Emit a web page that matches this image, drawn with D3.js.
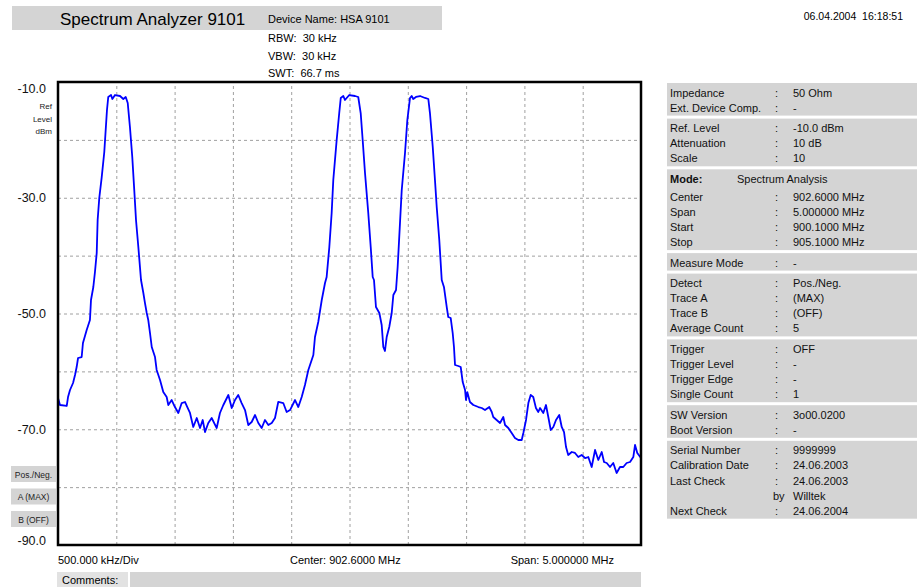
<!DOCTYPE html>
<html><head><meta charset="utf-8">
<script src="https://cdn.jsdelivr.net/npm/d3@7"></script>
<style>
body{margin:0;background:#fff;}
svg{display:block;font-family:"Liberation Sans",Arial,sans-serif;}
svg text{white-space:pre;}
</style>
</head><body>
<svg id="c" width="923" height="587"></svg>
<script>
// ---- data ----
const freqMHz = [
900.100,900.117,900.175,900.186,900.203,900.229,900.246,900.260,900.272,900.303,
900.314,900.346,900.374,900.383,900.403,900.417,900.432,900.440,900.454,900.475,
900.497,900.509,900.520,900.531,900.555,900.566,900.589,900.632,900.660,900.681,
900.698,900.717,900.737,900.754,900.769,900.789,900.812,900.832,900.846,900.861,
900.874,900.889,900.904,900.932,900.946,900.975,901.003,901.032,901.046,901.075,
901.103,901.132,901.161,901.189,901.209,901.232,901.260,901.290,901.318,901.341,
901.361,901.389,901.418,901.461,901.489,901.518,901.561,901.590,901.618,901.646,
901.675,901.704,901.732,901.761,901.790,901.818,901.847,901.875,901.904,901.933,
901.961,901.989,902.032,902.061,902.090,902.133,902.161,902.190,902.218,902.247,
902.290,902.304,902.332,902.362,902.390,902.404,902.427,902.447,902.461,902.490,
902.512,902.525,902.547,902.561,902.598,902.647,902.675,902.696,902.713,902.733,
902.761,902.782,902.799,902.810,902.827,902.856,902.876,902.890,902.904,902.919,
902.941,902.962,902.976,902.999,903.013,903.033,903.048,903.076,903.096,903.119,
903.133,903.147,903.170,903.205,903.248,903.276,903.290,903.314,903.333,903.348,
903.370,903.391,903.410,903.434,903.447,903.468,903.485,903.496,903.505,903.533,
903.554,903.571,903.591,903.599,903.610,903.633,903.662,903.705,903.734,903.762,
903.799,903.820,903.833,903.862,903.891,903.919,903.934,903.962,903.991,904.019,
904.048,904.077,904.091,904.114,904.134,904.154,904.176,904.199,904.219,904.234,
904.262,904.285,904.305,904.326,904.348,904.371,904.399,904.420,904.440,904.457,
904.476,904.506,904.534,904.562,904.591,904.620,904.648,904.677,904.706,904.734,
904.763,904.783,904.806,904.834,904.862,904.891,904.920,904.948,904.977,905.006,
905.034,905.049,905.068,905.100];
const levelDbm = [
-64.60,-65.81,-65.98,-64.43,-63.22,-62.01,-60.63,-59.25,-57.69,-57.52,
-55.10,-52.85,-51.12,-47.67,-45.42,-42.83,-39.55,-33.84,-30.04,-26.42,
-22.10,-18.29,-14.84,-12.59,-12.25,-12.94,-12.25,-12.42,-12.94,-12.59,
-13.63,-17.78,-22.96,-28.66,-33.84,-38.51,-44.21,-46.46,-48.19,-49.91,
-51.12,-53.37,-55.79,-57.52,-59.76,-61.49,-63.57,-64.43,-65.81,-64.95,
-66.16,-67.19,-65.47,-65.29,-66.16,-67.19,-69.61,-68.06,-69.79,-68.40,
-70.48,-68.92,-68.06,-69.79,-67.19,-65.81,-64.08,-66.33,-64.95,-64.08,
-65.47,-66.68,-69.27,-68.75,-67.54,-68.92,-69.79,-68.40,-69.27,-68.92,
-68.06,-65.29,-65.47,-67.02,-66.68,-64.95,-66.16,-64.43,-62.36,-59.76,
-57.17,-54.06,-51.47,-47.67,-44.73,-43.69,-38.51,-32.64,-26.93,-20.02,
-15.36,-12.76,-12.42,-13.11,-12.25,-12.42,-12.59,-15.36,-20.02,-25.72,
-32.64,-38.51,-43.69,-44.21,-48.88,-49.91,-51.99,-55.79,-56.48,-54.06,
-52.33,-49.91,-46.80,-45.94,-41.97,-34.36,-28.66,-22.27,-16.57,-12.76,
-12.42,-12.94,-12.59,-12.42,-12.76,-12.94,-15.36,-21.23,-26.93,-31.60,
-37.30,-44.21,-45.42,-48.88,-50.61,-50.78,-53.37,-55.79,-58.90,-59.07,
-59.25,-61.84,-63.22,-64.95,-63.57,-65.29,-65.81,-66.16,-66.33,-66.68,
-66.16,-67.02,-67.89,-68.40,-68.92,-67.89,-69.27,-69.79,-70.65,-71.51,
-71.86,-71.86,-70.65,-68.40,-65.47,-64.08,-64.43,-66.33,-67.02,-66.33,
-67.19,-65.81,-67.89,-70.13,-69.61,-68.40,-67.54,-69.61,-70.48,-73.07,
-74.45,-73.93,-74.10,-74.80,-74.45,-74.97,-74.80,-76.52,-73.58,-75.31,
-73.93,-75.66,-75.83,-76.52,-75.83,-77.56,-76.52,-76.52,-75.83,-75.66,
-74.80,-72.72,-74.10,-74.97];

const yTickValues = [-10, -30, -50, -70, -90];
const yTickLabels = ["-10.0", "-30.0", "-50.0", "-70.0", "-90.0"];
const xGridValues = [900.6, 901.1, 901.6, 902.1, 902.6, 903.1, 903.6, 904.1, 904.6];
const yGridValues = [-20, -30, -40, -50, -60, -70, -80];
const freqDomain = [900.1, 905.1];
const levelDomain = [-90, -10];

const titleText = "Spectrum Analyzer 9101";
const deviceText = "Device Name: HSA 9101";
const settingsLines = ["RBW:  30 kHz", "VBW:  30 kHz", "SWT:  66.7 ms"];
const dateText = "06.04.2004  16:18:51";
const unitLines = ["Ref", "Level", "dBm"];
const traceButtons = ["Pos./Neg.", "A (MAX)", "B (OFF)"];
const footerTexts = ["500.000 kHz/Div", "Center: 902.6000 MHz", "Span: 5.000000 MHz"];
const commentsLabel = "Comments:";

const infoGroups = [
  [["Impedance", ":", "50 Ohm"], ["Ext. Device Comp.", ":", "-"]],
  [["Ref. Level", ":", "-10.0 dBm"], ["Attenuation", ":", "10 dB"], ["Scale", ":", "10"]],
  [["Mode:", "", "Spectrum Analysis"], ["Center", ":", "902.6000 MHz"], ["Span", ":", "5.000000 MHz"], ["Start", ":", "900.1000 MHz"], ["Stop", ":", "905.1000 MHz"]],
  [["Measure Mode", ":", "-"]],
  [["Detect", ":", "Pos./Neg."], ["Trace A", ":", "(MAX)"], ["Trace B", ":", "(OFF)"], ["Average Count", ":", "5"]],
  [["Trigger", ":", "OFF"], ["Trigger Level", ":", "-"], ["Trigger Edge", ":", "-"], ["Single Count", ":", "1"]],
  [["SW Version", ":", "3o00.0200"], ["Boot Version", ":", "-"]],
  [["Serial Number", ":", "9999999"], ["Calibration Date", ":", "24.06.2003"], ["Last Check", ":", "24.06.2003"], ["", "by", "Willtek"], ["Next Check", ":", "24.06.2004"]]
];

// ---- drawing ----
const svg = d3.select("#c");
const gray = "#d4d4d4";
const plot = {left: 58, top: 82, right: 641, bottom: 545};

// header
svg.append("rect").attr("x", 12).attr("y", 6).attr("width", 430).attr("height", 24).attr("fill", gray);
svg.append("text").attr("x", 60).attr("y", 25).attr("font-size", 17).text(titleText);
svg.append("text").attr("x", 268).attr("y", 23).attr("font-size", 11).text(deviceText);
svg.selectAll(".set").data(settingsLines).join("text")
  .attr("x", 268).attr("y", (d, i) => 42 + i * 17.5).attr("font-size", 11).text(d => d);
svg.append("text").attr("x", 903).attr("y", 20).attr("text-anchor", "end").attr("font-size", 10.5).text(dateText);

// scales
const x = d3.scaleLinear().domain(freqDomain).range([plot.left, plot.right]);
const y = d3.scaleLinear().domain(levelDomain).range([plot.bottom, plot.top]);

// grid
const gx = svg.append("g").attr("transform", `translate(0,${plot.bottom})`)
  .call(d3.axisBottom(x).tickValues(xGridValues).tickSize(-(plot.bottom - plot.top)).tickFormat(""));
const gy = svg.append("g").attr("transform", `translate(${plot.left},0)`)
  .call(d3.axisLeft(y).tickValues(yGridValues).tickSize(-(plot.right - plot.left)).tickFormat(""));
[gx, gy].forEach(g => {
  g.select(".domain").remove();
  g.selectAll(".tick line").attr("stroke", "#a0a0a0").attr("stroke-width", 1).attr("stroke-dasharray", "3,3");
});

// trace
const pts = freqMHz.map((f, i) => [f, levelDbm[i]]);
svg.append("path").datum(pts)
  .attr("fill", "none").attr("stroke", "#0000ff").attr("stroke-width", 1.8).attr("stroke-linejoin", "round")
  .attr("d", d3.line().x(d => x(d[0])).y(d => y(d[1])));

// frame
svg.append("rect").attr("x", plot.left).attr("y", plot.top)
  .attr("width", plot.right - plot.left).attr("height", plot.bottom - plot.top)
  .attr("fill", "none").attr("stroke", "#000").attr("stroke-width", 2.5);

// y labels
svg.selectAll(".yl").data(yTickValues).join("text")
  .attr("x", 46).attr("y", d => Math.max(88, Math.min(540, y(d))) + 4.5)
  .attr("text-anchor", "end").attr("font-size", 12.5).attr("fill", "#111")
  .text((d, i) => yTickLabels[i]);
svg.selectAll(".ul").data(unitLines).join("text")
  .attr("x", 52).attr("y", (d, i) => 109 + i * 12.5).attr("text-anchor", "end")
  .attr("font-size", 8).attr("fill", "#222").text(d => d);

// trace buttons
const btn = svg.selectAll(".btn").data(traceButtons).join("g")
  .attr("transform", (d, i) => `translate(11,${466 + i * 22.5})`);
btn.append("rect").attr("width", 45).attr("height", 16).attr("fill", gray);
btn.append("text").attr("x", 22.5).attr("y", 11.5).attr("text-anchor", "middle")
  .attr("font-size", 8.5).attr("fill", "#222").text(d => d);

// footer
svg.append("text").attr("x", 58).attr("y", 564).attr("font-size", 11).text(footerTexts[0]);
svg.append("text").attr("x", 290).attr("y", 564).attr("font-size", 11).text(footerTexts[1]);
svg.append("text").attr("x", 614).attr("y", 564).attr("text-anchor", "end").attr("font-size", 11).text(footerTexts[2]);
svg.append("rect").attr("x", 57).attr("y", 572).attr("width", 71).attr("height", 15).attr("fill", "#e2e2e2");
svg.append("rect").attr("x", 130).attr("y", 572).attr("width", 511).attr("height", 15).attr("fill", gray);
svg.append("text").attr("x", 62).attr("y", 584).attr("font-size", 11).text(commentsLabel);

// info panel
let groupTop = 83;
const panelX = 667, panelW = 250;
infoGroups.forEach((rows) => {
  const centers = [];
  let c = groupTop + 9.5;
  rows.forEach((r) => {
    centers.push(c);
    c += (r[0] === "Mode:") ? 18 : 15.1;
  });
  const groupBottom = centers[centers.length - 1] + 8;
  svg.append("rect").attr("x", panelX).attr("y", groupTop).attr("width", panelW).attr("height", groupBottom - groupTop).attr("fill", gray);
  rows.forEach((r, ri) => {
    const by = centers[ri] + 4;
    const isMode = r[0] === "Mode:";
    svg.append("text").attr("x", 670).attr("y", by).attr("font-size", 11)
      .attr("font-weight", isMode ? "bold" : "normal").attr("fill", "#111").text(r[0]);
    if (r[1]) svg.append("text").attr("x", r[1] === "by" ? 773 : 775).attr("y", by).attr("font-size", 11).attr("fill", "#111").text(r[1]);
    svg.append("text").attr("x", isMode ? 737 : 793).attr("y", by).attr("font-size", 11).attr("fill", "#111").text(r[2]);
  });
  groupTop = groupBottom + 3;
});
</script>
</body></html>
